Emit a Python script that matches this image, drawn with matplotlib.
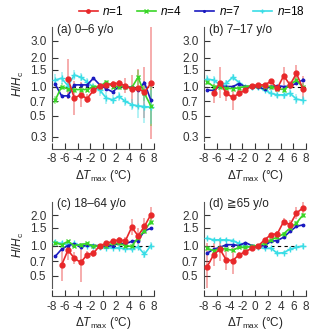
import numpy as np
import matplotlib
matplotlib.use("Agg")
import matplotlib.pyplot as plt
from matplotlib.lines import Line2D

plt.rcParams['font.family'] = ['Liberation Sans', 'DejaVu Sans']
plt.rcParams['mathtext.fontset'] = 'custom'
plt.rcParams['mathtext.rm'] = 'Liberation Sans'
plt.rcParams['mathtext.it'] = 'Liberation Sans:italic'
plt.rcParams['axes.unicode_minus'] = False

nan = np.nan
x = [-7.5, -6.5, -5.5, -4.5, -3.5, -2.5, -1.5, -0.5, 0.5, 1.5, 2.5, 3.5, 4.5, 5.5, 6.5, 7.5]
series_labels = ['$n$=1', '$n$=4', '$n$=7', '$n$=18']
panel_titles = ['(a) 0–6 y/o', '(b) 7–17 y/o', '(c) 18–64 y/o', '(d) ≧65 y/o']

# panel (a)
red_a = [nan, nan, 1.20, 0.76, 0.82, 0.75, 0.91, 1.02, 1.04, 1.07, 1.08, 1.02, 0.94, 0.96, 0.87, 1.08]
red_a_err = [nan, nan, 1.6, 1.5, 1.35, 1.12, 1.08, 1.05, 1.05, 1.06, 1.08, 1.2, 1.4, 1.6, 1.85, 3.8]
green_a = [0.72, 1.00, 0.94, 0.93, 0.93, 0.93, 1.00, 1.00, 1.12, 1.00, 1.00, 1.00, 0.97, 1.25, 0.85, 0.63]
green_a_err = [1.1, 1.08, 1.08, 1.08, 1.06, 1.06, 1.05, 1.04, 1.05, 1.05, 1.05, 1.06, 1.08, 1.2, 1.2, 1.6]
blue_a = [1.06, 0.80, 0.80, 1.04, 1.04, 1.04, 1.22, 1.04, 0.95, 0.88, 1.00, 1.00, 0.98, 0.92, 1.10, 0.72]
blue_a_err = [1.04, 1.04, 1.04, 1.03, 1.03, 1.03, 1.03, 1.03, 1.03, 1.03, 1.03, 1.03, 1.03, 1.04, 1.05, 1.06]
cyan_a = [1.17, 1.22, 1.02, 1.32, 1.25, 1.12, 0.98, 0.92, 0.76, 0.73, 0.79, 0.70, 0.65, 0.63, 0.62, 0.61]
cyan_a_err = [1.15, 1.15, 1.12, 1.12, 1.1, 1.1, 1.12, 1.15, 1.15, 1.12, 1.12, 1.12, 1.15, 1.35, 1.5, 1.5]

# panel (b)
red_b = [nan, 0.85, 1.10, 0.85, 0.77, 0.85, 0.92, 1.02, 1.04, 1.04, 1.13, 0.96, 1.29, 1.04, 1.37, 0.95]
red_b_err = [nan, 1.25, 1.45, 1.2, 1.35, 1.08, 1.06, 1.05, 1.04, 1.04, 1.06, 1.08, 1.25, 1.1, 1.22, 1.35]
green_b = [1.12, 1.00, 1.00, 0.96, 0.95, 0.97, 1.00, 1.02, 1.02, 1.00, 1.00, 0.95, 0.93, 1.04, 1.17, 0.98]
green_b_err = [1.08, 1.05, 1.05, 1.04, 1.04, 1.03, 1.03, 1.03, 1.03, 1.03, 1.03, 1.04, 1.05, 1.06, 1.08, 1.1]
blue_b = [0.92, 0.91, 1.02, 1.00, 1.00, 1.07, 1.00, 1.00, 0.99, 0.94, 1.00, 1.02, 1.00, 1.01, 1.08, 1.17]
blue_b_err = [1.03, 1.03, 1.03, 1.02, 1.02, 1.02, 1.02, 1.02, 1.02, 1.02, 1.02, 1.02, 1.02, 1.03, 1.03, 1.04]
cyan_b = [1.19, 1.17, 1.04, 1.08, 1.25, 1.10, 0.98, 0.98, 0.98, 0.92, 0.85, 0.82, 0.82, 0.85, 0.74, 0.72]
cyan_b_err = [1.1, 1.1, 1.08, 1.08, 1.08, 1.06, 1.06, 1.06, 1.06, 1.06, 1.08, 1.08, 1.1, 1.1, 1.12, 1.12]

# panel (c)
red_c = [nan, 0.64, 0.90, 0.75, 0.68, 0.81, 0.84, 1.00, 1.05, 1.10, 1.14, 1.11, 1.52, 1.25, 1.55, 2.02]
red_c_err = [nan, 1.45, 1.25, 1.15, 1.55, 1.1, 1.08, 1.04, 1.04, 1.05, 1.06, 1.1, 1.2, 1.2, 1.2, 1.2]
green_c = [1.07, 1.02, 1.10, 1.00, 1.02, 1.05, 0.98, 1.00, 1.00, 1.05, 1.05, 1.00, 0.98, 1.20, 1.40, 1.73]
green_c_err = [1.05, 1.04, 1.04, 1.03, 1.03, 1.03, 1.02, 1.02, 1.02, 1.02, 1.03, 1.03, 1.04, 1.05, 1.06, 1.08]
blue_c = [0.78, 0.92, 1.00, 1.04, 0.96, 1.02, 1.00, 1.00, 0.98, 1.00, 1.05, 1.04, 1.10, 1.12, 1.40, 1.48]
blue_c_err = [1.03, 1.02, 1.02, 1.02, 1.02, 1.02, 1.02, 1.02, 1.02, 1.02, 1.02, 1.02, 1.02, 1.03, 1.03, 1.04]
cyan_c = [1.08, 1.05, 1.02, 1.05, 1.00, 1.00, 1.00, 0.97, 0.95, 0.95, 0.95, 0.93, 0.93, 0.97, 0.82, 1.00]
cyan_c_err = [1.05, 1.05, 1.04, 1.04, 1.04, 1.03, 1.03, 1.03, 1.03, 1.03, 1.04, 1.04, 1.05, 1.06, 1.1, 1.08]

# panel (d)
red_d = [0.62, 0.81, 0.92, 0.72, 0.71, 0.81, 0.87, 0.94, 0.99, 1.14, 1.28, 1.31, 1.73, 1.61, 2.10, 2.35]
red_d_err = [1.7, 1.3, 1.3, 1.25, 1.35, 1.06, 1.05, 1.04, 1.03, 1.04, 1.05, 1.06, 1.08, 1.1, 1.15, 1.15]
green_d = [0.94, 0.89, 0.94, 0.92, 0.90, 0.96, 0.96, 0.98, 1.00, 1.05, 1.14, 1.21, 1.31, 1.49, 1.67, 2.00]
green_d_err = [1.05, 1.04, 1.04, 1.03, 1.03, 1.02, 1.02, 1.02, 1.02, 1.02, 1.02, 1.03, 1.03, 1.04, 1.05, 1.06]
blue_d = [0.84, 0.92, 0.96, 1.02, 1.02, 1.00, 1.07, 1.00, 0.98, 1.00, 1.10, 1.12, 1.21, 1.38, 1.55, 1.60]
blue_d_err = [1.03, 1.02, 1.02, 1.02, 1.02, 1.02, 1.02, 1.02, 1.02, 1.02, 1.02, 1.02, 1.02, 1.02, 1.03, 1.03]
cyan_d = [1.18, 1.14, 1.14, 1.14, 1.12, 1.05, 0.99, 0.96, 0.96, 0.94, 0.94, 0.84, 0.85, 0.92, 0.96, 0.99]
cyan_d_err = [1.04, 1.04, 1.04, 1.04, 1.03, 1.03, 1.03, 1.03, 1.03, 1.03, 1.03, 1.04, 1.04, 1.05, 1.05, 1.06]

top_ticks = [0.3, 0.5, 0.7, 1.0, 1.5, 2.0, 3.0]
bottom_ticks = [0.5, 0.7, 1.0, 1.5, 2.0]
x_ticks = [-8, -6, -4, -2, 0, 2, 4, 6, 8]

panels = [
    [(red_a, red_a_err), (green_a, green_a_err), (blue_a, blue_a_err), (cyan_a, cyan_a_err)],
    [(red_b, red_b_err), (green_b, green_b_err), (blue_b, blue_b_err), (cyan_b, cyan_b_err)],
    [(red_c, red_c_err), (green_c, green_c_err), (blue_c, blue_c_err), (cyan_c, cyan_c_err)],
    [(red_d, red_d_err), (green_d, green_d_err), (blue_d, blue_d_err), (cyan_d, cyan_d_err)],
]

colors = ['#e8282a', '#3ad628', '#1a1ac0', '#3adde6']
markers = ['o', 'x', '.', '+']
msizes = [3.5, 3.5, 3.5, 4.5]

W, H = 309, 332
fig = plt.figure(figsize=(W / 100, H / 100), dpi=100)

boxes = [(52, 27, 154, 141), (204, 27, 306, 141), (52, 202, 154, 288), (204, 202, 306, 288)]
ylims = [(0.272, 4.15), (0.272, 4.15), (0.38, 2.7), (0.38, 2.7)]

axes = []
for i, (l, t, r, b) in enumerate(boxes):
    ax = fig.add_axes([l / W, 1 - b / H, (r - l) / W, (b - t) / H])
    axes.append(ax)
    ax.set_yscale('log')
    ax.set_xlim(-8, 8)
    ax.set_ylim(*ylims[i])
    ax.axhline(1.0, color='black', lw=0.8, ls=(0, (3, 3)), zorder=1)
    for j, (vals, errs) in enumerate(panels[i]):
        v = np.array(vals, dtype=float)
        f = np.array(errs, dtype=float)
        lo = v - v / f
        hi = v * f - v
        ax.errorbar(x, v, yerr=[lo, hi], fmt='none', ecolor=colors[j], alpha=0.45,
                    elinewidth=1.2, capsize=0, zorder=2)
    for j, (vals, errs) in enumerate(panels[i]):
        ax.plot(x, vals, color=colors[j], marker=markers[j], ms=msizes[j], lw=1.2,
                mew=1.0, zorder=3 + (3 - j) * 0.1)
    ticks = top_ticks if i < 2 else bottom_ticks
    ax.yaxis.set_major_locator(matplotlib.ticker.FixedLocator(ticks))
    ax.yaxis.set_major_formatter(matplotlib.ticker.FixedFormatter([f'{t:.1f}' for t in ticks]))
    ax.yaxis.set_minor_locator(matplotlib.ticker.NullLocator())
    ax.set_xticks(x_ticks)
    ax.set_xticklabels([str(t) for t in x_ticks])
    ax.tick_params(axis='both', direction='in', length=4, width=0.8, labelsize=8.5, colors='#333333')
    ax.tick_params(axis='y', pad=4)
    ax.tick_params(axis='x', pad=3)
    for s in ['top', 'right']:
        ax.spines[s].set_visible(False)
    ax.spines['bottom'].set_position(('outward', 6))
    for s in ['left', 'bottom']:
        ax.spines[s].set_color('#555555')
        ax.spines[s].set_linewidth(0.8)
    ax.text(0.05, 0.97 if i < 2 else 0.98, panel_titles[i], transform=ax.transAxes, fontsize=8.5,
            ha='left', va='center', color='#222222')
    ax.set_xlabel(r'$\mathit{ΔT}_\mathrm{max}$ (°C)', fontsize=8.5, labelpad=2, color='#222222')
    if i % 2 == 0:
        ax.set_ylabel(r'$H/H_\mathrm{c}$', fontsize=8.5, labelpad=3, color='#222222')

handles = [Line2D([], [], color=colors[j], marker=markers[j], ms=msizes[j] * 0.7, lw=1.2)
           for j in range(4)]
fig.legend(handles, series_labels, loc='center', bbox_to_anchor=(0.62, 0.964), ncol=4,
           frameon=False, fontsize=8.5, handlelength=1.6, handletextpad=0.4,
           columnspacing=1.1, borderaxespad=0, borderpad=0)

fig.savefig('out.png', dpi=100)
